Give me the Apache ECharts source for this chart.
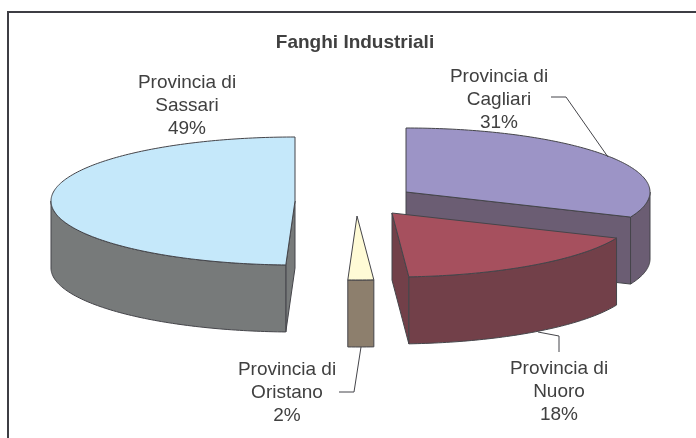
<!DOCTYPE html>
<html>
<head>
<meta charset="utf-8">
<style>
  html, body { margin: 0; background: #fff; }
  #chart { width: 696px; height: 438px; }
</style>
<script src="https://cdn.jsdelivr.net/npm/echarts@6/dist/echarts.min.js"></script>
</head>
<body>
<div id="chart"></div>
<script>
var chartTitle = 'Fanghi Industriali';
var categories = ['Provincia di Cagliari', 'Provincia di Nuoro', 'Provincia di Oristano', 'Provincia di Sassari'];
var shares = [31.4, 17.5, 1.7, 49.4];

var topColors = ['#9c94c6', '#a6505e', '#fffbd6', '#c5e8fa'];
var wallColors = ['#6b5d73', '#724049', '#8d7f6d', '#777a7a'];
// exploded slice centres, label centres and leader lines, in pixels
var sliceCentres = [[406, 192], [392, 213], [357, 216], [295, 201]];
var labelCentres = [[499, 100], [559, 392], [287, 393], [187, 106]];
var leaders = [
  [[551, 97], [566, 97], [608, 157]],
  [[538, 332], [559, 336], [559, 352]],
  [[339, 392], [354, 392], [361, 347]],
  []
];
var RX = 244, RY = 64, DEPTH = 67;
var LINE = '#45454a', TEXT = '#404040';
var FONT = '"Liberation Sans", Arial, sans-serif';

var total = shares.reduce(function (a, b) { return a + b; }, 0);

function point(c, deg, drop) {
  var r = deg * Math.PI / 180;
  return [c[0] + RX * Math.sin(r), c[1] - RY * Math.cos(r) + (drop || 0)];
}

function arc(c, from, to, drop) {
  var pts = [];
  var n = Math.max(2, Math.ceil(to - from));
  for (var i = 0; i <= n; i++) {
    pts.push(point(c, from + (to - from) * i / n, drop));
  }
  return pts;
}

function poly(points, fill) {
  return {
    type: 'polygon',
    shape: { points: points },
    style: { fill: fill, stroke: LINE, lineWidth: 1, lineJoin: 'round' }
  };
}

function cutFace(c, deg, fill) {
  var p = point(c, deg);
  return poly([c, p, [p[0], p[1] + DEPTH], [c[0], c[1] + DEPTH]], fill);
}

function renderSlice(params, api) {
  var i = params.dataIndex;
  var before = 0;
  for (var k = 0; k < i; k++) before += shares[k];
  var from = before / total * 360;
  var to = from + api.value(0) / total * 360;
  var c = sliceCentres[i];
  var kids = [];

  // faces of the cut, only the ones turned towards the viewer
  if (Math.sin(from * Math.PI / 180) < -1e-6) kids.push(cutFace(c, from, wallColors[i]));
  if (Math.sin(to * Math.PI / 180) > 1e-6) kids.push(cutFace(c, to, wallColors[i]));

  // outer wall, front half of the rim
  var a = Math.max(from, 90), b = Math.min(to, 270);
  if (b > a) {
    kids.push(poly(arc(c, a, b, 0).concat(arc(c, a, b, DEPTH).reverse()), wallColors[i]));
  }

  kids.push(poly([c].concat(arc(c, from, to, 0)), topColors[i]));

  if (leaders[i].length) {
    kids.push({
      type: 'polyline',
      shape: { points: leaders[i] },
      style: { fill: null, stroke: LINE, lineWidth: 1 }
    });
  }
  kids.push({
    type: 'text',
    x: labelCentres[i][0],
    y: labelCentres[i][1],
    style: {
      text: categories[i].replace(' di ', ' di\n') + '\n' + Math.round(api.value(0)) + '%',
      fill: TEXT,
      font: '19px ' + FONT,
      lineHeight: 23,
      align: 'center',
      verticalAlign: 'middle'
    }
  });
  return { type: 'group', children: kids };
}

var myChart = echarts.init(document.getElementById('chart'), null, { renderer: 'canvas' });
myChart.setOption({
  animation: false,
  backgroundColor: '#fff',
  title: {
    text: chartTitle,
    left: 350,
    top: 28,
    textAlign: 'center',
    textStyle: { color: TEXT, fontFamily: FONT, fontSize: 19, fontWeight: 'bold' }
  },
  graphic: [{
    type: 'polyline',
    silent: true,
    shape: { points: [[8, 438], [8, 12], [696, 12]] },
    style: { fill: null, stroke: '#3e3e44', lineWidth: 2 }
  }],
  series: [{
    type: 'custom',
    coordinateSystem: 'none',
    silent: true,
    renderItem: renderSlice,
    data: shares.map(function (v, i) { return { name: categories[i], value: [v] }; })
  }]
});
</script>
</body>
</html>
